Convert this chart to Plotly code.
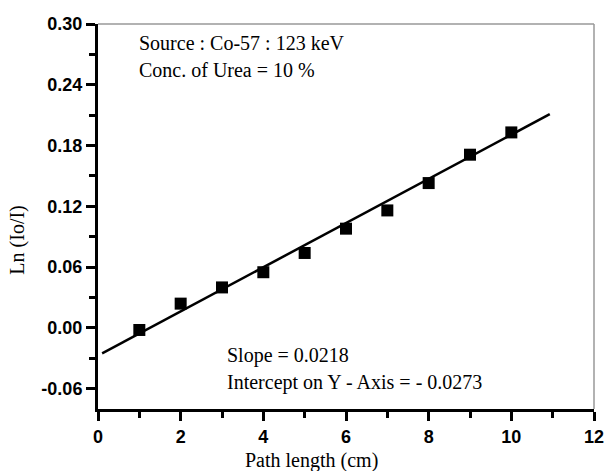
import plotly.graph_objects as go

# Data
path_cm = [1, 2, 3, 4, 5, 6, 7, 8, 9, 10]
ln_io_i = [-0.002, 0.024, 0.040, 0.055, 0.074, 0.098, 0.116, 0.143, 0.171, 0.193]
fit_x = [0.1, 10.93]
fit_y = [-0.0251, 0.2110]

x_ticks = [0, 2, 4, 6, 8, 10, 12]
y_ticks = [-0.06, 0.00, 0.06, 0.12, 0.18, 0.24, 0.30]

serif = "Liberation Serif"
sans = "Liberation Sans"

fig = go.Figure()
fig.add_trace(go.Scatter(x=fit_x, y=fit_y, mode="lines",
                         line=dict(color="black", width=2.5), showlegend=False))
fig.add_trace(go.Scatter(x=path_cm, y=ln_io_i, mode="markers",
                         marker=dict(symbol="square", size=12, color="black"),
                         showlegend=False))

axis_common = dict(
    showgrid=False, zeroline=False, showline=True, linecolor="black", linewidth=3,
    ticks="outside", ticklen=9, tickwidth=2.5, tickcolor="black",
    tickfont=dict(family=sans, size=18, color="black", weight="bold"),
)
fig.update_xaxes(range=[0, 12], tickvals=x_ticks, ticktext=[str(v) for v in x_ticks],
                 minor=dict(ticks="outside", dtick=1, tick0=0, ticklen=6, tickwidth=2.5,
                            tickcolor="black"),
                 **axis_common)
fig.update_yaxes(range=[-0.08, 0.30], tickvals=y_ticks,
                 ticktext=[f"{v:.2f}" for v in y_ticks],
                 minor=dict(ticks="outside", dtick=0.03, tick0=0, ticklen=6, tickwidth=2.5,
                            tickcolor="black"),
                 **axis_common)

fig.add_shape(type="line", xref="paper", yref="paper", x0=0, x1=1, y0=1, y1=1,
              line=dict(color="#999999", width=1.5))
fig.add_shape(type="line", xref="paper", yref="paper", x0=1, x1=1, y0=0, y1=1,
              line=dict(color="#999999", width=1.5))

tf = dict(family=serif, size=20, color="black")
notes = [
    ("Source : Co-57 : 123 keV", 0.079, 0.951),
    ("Conc. of Urea = 10 %", 0.079, 0.881),
    ("Slope = 0.0218", 0.257, 0.140),
    ("Intercept on Y - Axis = - 0.0273", 0.257, 0.068),
]
for t, x, y in notes:
    fig.add_annotation(text=t, xref="paper", yref="paper", x=x, y=y, xanchor="left",
                       yanchor="middle", showarrow=False, font=tf)

fig.add_annotation(text="Path length (cm)", xref="paper", yref="paper", x=0.43, y=-0.134,
                   xanchor="center", yanchor="middle", showarrow=False, font=tf)
fig.add_annotation(text="Ln (Io/I)", xref="paper", yref="paper", x=-0.162, y=0.439,
                   xanchor="center", yanchor="middle", textangle=-90, showarrow=False, font=tf)

fig.update_layout(width=616, height=471, margin=dict(l=98, r=13, t=24, b=62),
                  paper_bgcolor="white", plot_bgcolor="white")

fig.write_html("out.html")
